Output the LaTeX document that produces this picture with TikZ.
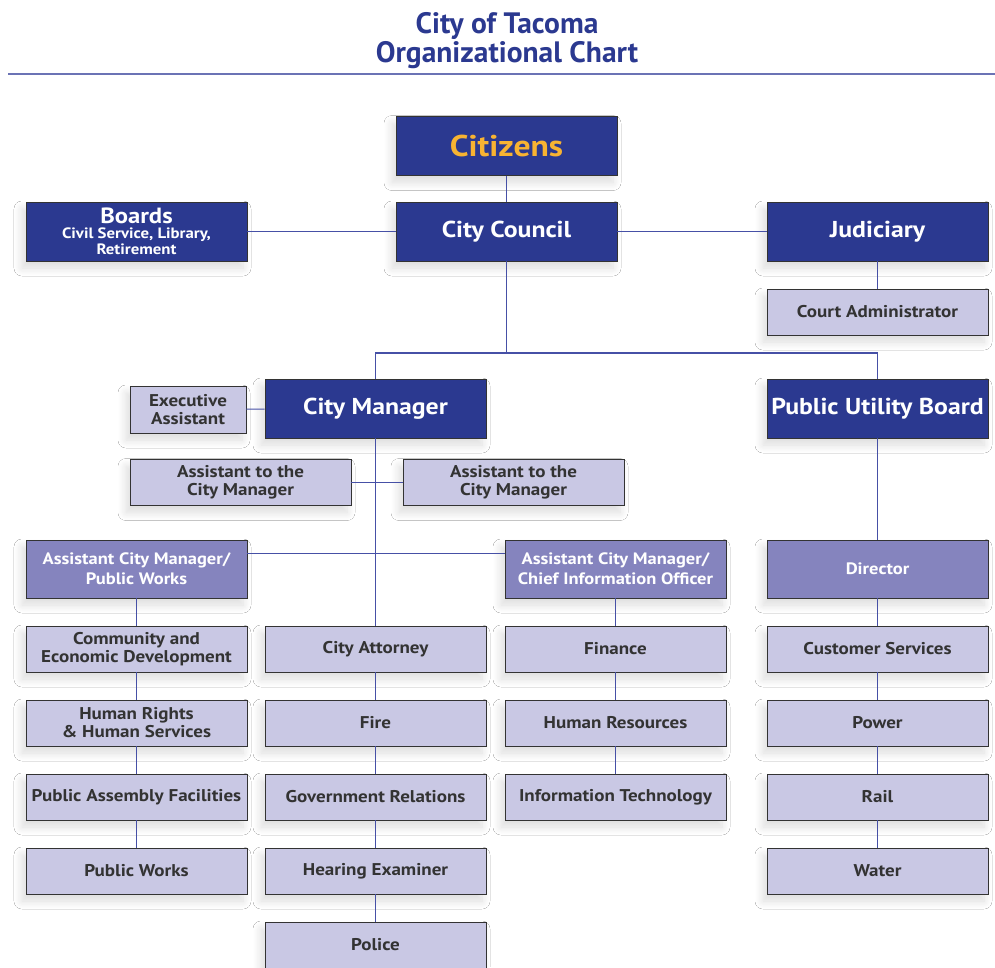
\documentclass[tikz,border=0pt]{standalone}
\usepackage{fontspec}
\setmainfont{PT Sans}[FakeStretch=1.12]
\newfontfamily\titlefont[FakeStretch=1.0]{PT Sans}
\usetikzlibrary{shadows.blur}
\definecolor{navy}{HTML}{2B3990}
\definecolor{midpurple}{HTML}{8584BE}
\definecolor{lavender}{HTML}{C9C8E4}
\definecolor{linkblue}{HTML}{4650A6}
\definecolor{orangetxt}{HTML}{F8B332}
\definecolor{rulecol}{HTML}{6B73B5}
\definecolor{edgegray}{HTML}{333333}
\definecolor{darktxt}{HTML}{333333}
\tikzset{
  x=1pt, y=-1pt,
  boxbase/.style={draw=edgegray, line width=0.9pt, inner sep=0pt, align=center,
     minimum width=221pt, blur shadow={shadow xshift=-4pt, shadow yshift=-7pt, shadow blur radius=8pt, shadow opacity=14, shadow blur steps=14}},
  darkbox/.style={boxbase, fill=navy, text=white, minimum height=59pt, font=\fontsize{23}{26}\bfseries},
  midbox/.style={boxbase, fill=midpurple, text=white, minimum height=58pt, font=\fontsize{16.5}{20}\bfseries},
  lightbox/.style={boxbase, fill=lavender, text=darktxt, minimum height=46pt, font=\fontsize{17}{18}\bfseries},
  link/.style={draw=linkblue, line width=1.1pt}
}
\begin{document}
\begin{tikzpicture}
\useasboundingbox (0,0) rectangle (995,967);
\fill[white] (0,0) rectangle (995,967);
% title
\node[font=\titlefont\fontsize{29.5}{29}\bfseries, text=navy, align=center] (title) at (507,41) {City of Tacoma\\Organizational Chart};
\draw[draw=rulecol, line width=1.5pt] (8,74) -- (995,74);
% top level
\node[darkbox, font=\fontsize{30}{32}\bfseries, text=orangetxt] (citizens) at (506.5,146) {Citizens};
\node[darkbox, font=\fontsize{15}{16}\bfseries] (boards) at (136.5,231.5) {{\fontsize{22}{20}\selectfont Boards}\\[-1pt]Civil Service, Library,\\Retirement};
\node[darkbox] (council) at (506.5,231.5) {City Council};
\node[darkbox] (judiciary) at (877.5,231.5) {Judiciary};
\node[lightbox] (court) at (877.5,312) {Court Administrator};
% managers
\node[darkbox] (manager) at (375.5,408.5) {City Manager};
\node[darkbox] (pub) at (877.5,408.5) {Public Utility Board};
\node[lightbox, minimum width=116pt, minimum height=47pt] (exec) at (188,409.5) {Executive\\Assistant};
\node[lightbox] (asstleft) at (240.5,482.5) {Assistant to the\\City Manager};
\node[lightbox] (asstright) at (513.5,482.5) {Assistant to the\\City Manager};
% second tier
\node[midbox] (acmpw) at (136.5,569) {Assistant City Manager/\\Public Works};
\node[midbox] (acmcio) at (615.5,569) {Assistant City Manager/\\Chief Information Officer};
\node[midbox] (director) at (877.5,569) {Director};
% column 1
\node[lightbox] (comm) at (136.5,649) {Community and\\Economic Development};
\node[lightbox] (rights) at (136.5,723) {Human Rights\\\& Human Services};
\node[lightbox] (assembly) at (136.5,797) {Public Assembly Facilities};
\node[lightbox] (works) at (136.5,871) {Public Works};
% column 2
\node[lightbox] (attorney) at (375.5,649) {City Attorney};
\node[lightbox] (fire) at (375.5,723) {Fire};
\node[lightbox] (gov) at (375.5,797) {Government Relations};
\node[lightbox] (hearing) at (375.5,871) {Hearing Examiner};
\node[lightbox] (police) at (375.5,945) {Police};
% column 3
\node[lightbox] (finance) at (615.5,649) {Finance};
\node[lightbox] (hr) at (615.5,723) {Human Resources};
\node[lightbox] (it) at (615.5,797) {Information Technology};
% column 4
\node[lightbox] (customer) at (877.5,649) {Customer Services};
\node[lightbox] (power) at (877.5,723) {Power};
\node[lightbox] (rail) at (877.5,797) {Rail};
\node[lightbox] (water) at (877.5,871) {Water};
% connectors
\coordinate (bus) at (506.5,353);
\draw[link] (citizens) -- (council);
\draw[link] (boards) -- (council);
\draw[link] (council) -- (judiciary);
\draw[link] (judiciary) -- (court);
\draw[link] (council) -- (bus);
\draw[link] (manager.north) |- (bus) -| (pub.north);
\draw[link] (exec) -- (manager);
\draw[link] (manager) -- (attorney);
\draw[link] (asstleft) -- (asstright);
\draw[link] ([yshift=-14pt]acmpw.north east) -- ([yshift=-14pt]acmcio.north west);
\draw[link] (acmpw) -- (comm) -- (rights) -- (assembly) -- (works);
\draw[link] (attorney) -- (fire) -- (gov) -- (hearing) -- (police);
\draw[link] (acmcio) -- (finance) -- (hr) -- (it);
\draw[link] (pub) -- (director) -- (customer) -- (power) -- (rail) -- (water);
\end{tikzpicture}
\end{document}
